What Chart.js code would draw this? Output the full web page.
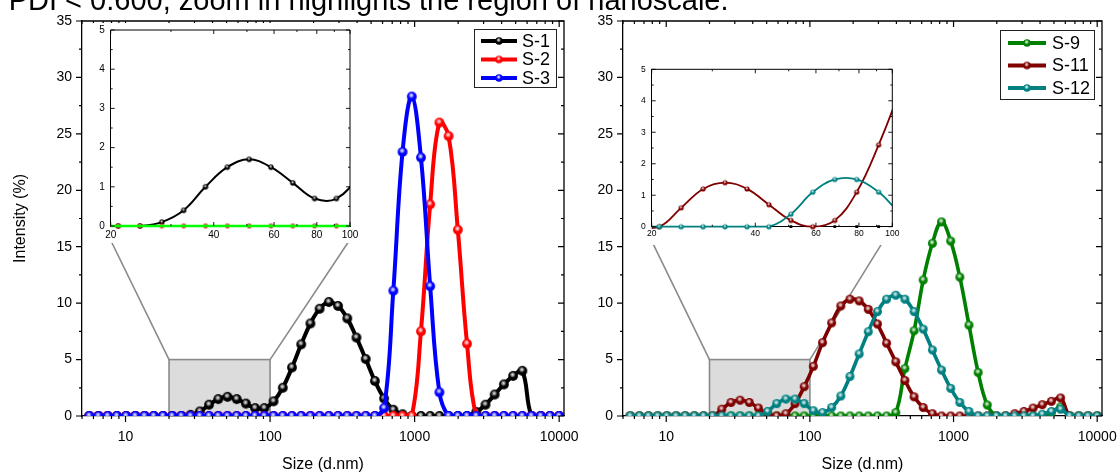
<!DOCTYPE html>
<html><head><meta charset="utf-8">
<script src="https://cdn.jsdelivr.net/npm/chart.js@4.4.1/dist/chart.umd.min.js"></script>
<style>
html,body{margin:0;padding:0;background:#fff;width:1117px;height:474px;overflow:hidden;position:relative;}
canvas{position:absolute;}
#note{position:absolute;left:-9px;top:-14px;font:29px "Liberation Sans",Arial,sans-serif;line-height:29px;white-space:nowrap;color:#000;z-index:5;}
</style></head><body>
<div id="note">r PDI &lt; 0.600, zoom in highlights the region of nanoscale.</div>
<canvas id="mainL" width="580" height="474" style="left:0;top:0;z-index:1"></canvas>
<canvas id="mainR" width="537" height="474" style="left:580px;top:0;z-index:1"></canvas>
<canvas id="insetL" width="268" height="220" style="left:92px;top:23px;z-index:2"></canvas>
<canvas id="insetR" width="264" height="183" style="left:636px;top:62px;z-index:2"></canvas>
<script>
// ---------------- DATA ----------------
const sizes = [5.615, 6.503, 7.531, 8.721, 10.10, 11.70, 13.54, 15.69, 18.17, 21.04,
  24.36, 28.21, 32.67, 37.84, 43.82, 50.75, 58.77, 68.06, 78.82, 91.28,
  105.7, 122.4, 141.8, 164.2, 190.1, 220.2, 255.0, 295.3, 342.0, 396.1,
  458.7, 531.2, 615.1, 712.4, 825.0, 955.4, 1106, 1281, 1484, 1718,
  1990, 2305, 2669, 3091, 3580, 4145, 4801, 5560, 6439, 7456,
  8635, 10000];
const s1 = [0,0,0,0,0,0,0,0,0,0,
  0,0.1,0.4,1.0,1.5,1.7,1.5,1.1,0.7,0.7,
  1.3,2.5,4.3,6.35,8.2,9.5,10.1,9.75,8.65,6.95,
  5.05,3.1,1.55,0.55,0.15,0,0,0,0,0,
  0,0,0.35,1.0,1.9,2.8,3.55,4.0,0,0,
  0,0];
const s2 = [0,0,0,0,0,0,0,0,0,0,
  0,0,0,0,0,0,0,0,0,0,
  0,0,0,0,0,0,0,0,0,0,
  0,0,0,0,0,0,7.5,18.75,26.0,24.8,
  16.5,6.4,0,0,0,0,0,0,0,0,
  0,0];
const s3 = [0,0,0,0,0,0,0,0,0,0,
  0,0,0,0,0,0,0,0,0,0,
  0,0,0,0,0,0,0,0,0,0,
  0,0,0.7,11.1,23.4,28.3,22.9,11.5,2.1,0,
  0,0,0,0,0,0,0,0,0,0,
  0,0];
const s9 = [0,0,0,0,0,0,0,0,0,0,
  0,0,0,0,0,0,0,0,0,0,
  0,0,0,0,0,0,0,0,0,0.3,
  4.2,7.55,12.05,15.3,17.2,15.5,12.3,8.05,3.85,0.97,
  0,0,0,0,0,0,0.3,0.8,0,0,
  0,0];
const s11 = [0,0,0,0,0,0,0,0,0,0,
  0.6,1.2,1.4,1.2,0.7,0.2,0,0.2,1.1,2.6,
  4.4,6.5,8.25,9.75,10.35,10.2,9.45,8.15,6.45,4.8,
  3.15,1.7,0.75,0.2,0,0,0,0,0,0,
  0,0,0.2,0.4,0.7,1.0,1.3,1.6,0,0,
  0,0];
const s12 = [0,0,0,0,0,0,0,0,0,0,
  0,0,0,0,0,0.4,1.1,1.5,1.5,1.1,
  0.47,0.3,0.75,1.77,3.5,5.5,7.47,9.25,10.35,10.7,
  10.35,9.25,7.7,5.85,4.07,2.45,1.2,0.4,0,0,
  0,0,0,0,0,0.15,0.4,0.6,0,0,
  0,0];
const xMajor = [10, 100, 1000, 10000];
const xMinor = [5,6,7,8,9,20,30,40,50,60,70,80,90,200,300,400,500,600,700,800,900,2000,3000,4000,5000,6000,7000,8000,9000];
const yMajor = [0,5,10,15,20,25,30,35];
const yMinor = [2.5,7.5,12.5,17.5,22.5,27.5,32.5];
const inXMajor = [20,40,60,80,100];
const inXMinor = [30,50,70,90];
const inYMajor = [0,1,2,3,4,5];
const inYMinor = [0.5,1.5,2.5,3.5,4.5];
const zoomRange = {x0: 20, x1: 100, y0: 0, y1: 5};

// ---------------- HELPERS ----------------
const FAM = '"Liberation Sans", Arial, sans-serif';
Chart.defaults.font.family = FAM;
Chart.defaults.color = '#000';
const charts = {};

function ball(color, r) {
  const s = Math.ceil(r * 2 + 2);
  const c = document.createElement('canvas'); c.width = s; c.height = s;
  const g = c.getContext('2d'); const cx = s / 2, cy = s / 2;
  g.beginPath(); g.arc(cx, cy, r, 0, Math.PI * 2); g.fillStyle = color; g.fill();
  const hx = cx - r * 0.1, hy = cy - r * 0.25;
  const grd = g.createRadialGradient(hx, hy, 0, hx, hy, r * 0.62);
  grd.addColorStop(0, 'rgba(255,255,255,0.95)');
  grd.addColorStop(0.45, 'rgba(255,255,255,0.6)');
  grd.addColorStop(1, 'rgba(255,255,255,0)');
  g.beginPath(); g.arc(cx, cy, r, 0, Math.PI * 2); g.fillStyle = grd; g.fill();
  return c;
}
function pts(vals) { return sizes.map((x, i) => ({x, y: vals[i]})); }
function ds(label, vals, color, order, lw, r) {
  return {label, data: pts(vals), borderColor: color, backgroundColor: color, borderWidth: lw,
    tension: 0.4, pointStyle: ball(color, r), pointRadius: r, pointHoverRadius: r, order,
    legendMarker: ball(color, 3.8)};
}
function fitX(h) { return s => { s.height = h; s.paddingLeft = 0; s.paddingRight = 0; }; }
function fitY(w) { return s => { s.width = w; s.paddingTop = 0; s.paddingBottom = 0; }; }

const framePlugin = {
  id: 'frame',
  afterDraw(chart, args, o) {
    const {ctx, chartArea: a, scales: {x, y}} = chart;
    ctx.save();
    ctx.strokeStyle = '#000'; ctx.lineWidth = o.lw;
    ctx.beginPath();
    ctx.moveTo(a.left, a.top); ctx.lineTo(a.right, a.top); ctx.lineTo(a.right, a.bottom);
    ctx.stroke();
    ctx.lineWidth = o.tw;
    ctx.beginPath();
    const bDir = o.bottomOut ? 1 : -1, lDir = o.leftOut ? 1 : -1;
    const xt = (vals, len) => vals.forEach(v => {
      const px = x.getPixelForValue(v);
      if (px < a.left - 0.5 || px > a.right + 0.5) return;
      ctx.moveTo(px, a.bottom); ctx.lineTo(px, a.bottom + len * bDir);
      ctx.moveTo(px, a.top); ctx.lineTo(px, a.top + len);
    });
    const yt = (vals, len) => vals.forEach(v => {
      const py = y.getPixelForValue(v);
      ctx.moveTo(a.left, py); ctx.lineTo(a.left - len * lDir, py);
      ctx.moveTo(a.right, py); ctx.lineTo(a.right - len, py);
    });
    xt(o.xMajor, o.maj); xt(o.xMinor, o.min);
    yt(o.yMajor, o.maj); yt(o.yMinor, o.min);
    ctx.stroke();
    ctx.restore();
  }
};

const whiteBg = {
  id: 'whiteBg',
  beforeDraw(chart) {
    const ctx = chart.ctx; ctx.save(); ctx.fillStyle = '#fff';
    ctx.fillRect(0, 0, chart.width, chart.height); ctx.restore();
  }
};

const zoomPlugin = {
  id: 'zoomBox',
  beforeDatasetsDraw(chart, args, o) {
    const {ctx, scales: {x, y}} = chart;
    const l = x.getPixelForValue(zoomRange.x0), r = x.getPixelForValue(zoomRange.x1);
    const t = y.getPixelForValue(zoomRange.y1), b = y.getPixelForValue(zoomRange.y0);
    ctx.save();
    ctx.fillStyle = '#dcdcdc'; ctx.fillRect(l, t, r - l, b - t);
    ctx.strokeStyle = '#8a8a8a'; ctx.lineWidth = 1.6;
    ctx.strokeRect(l, t, r - l, b - t);
    const ins = charts[o.inset];
    if (ins) {
      const dx = ins.canvas.offsetLeft - chart.canvas.offsetLeft;
      const dy = ins.canvas.offsetTop - chart.canvas.offsetTop;
      const ia = ins.chartArea;
      ctx.beginPath();
      ctx.moveTo(l, t); ctx.lineTo(ia.left + dx + o.dl, ia.bottom + dy);
      ctx.moveTo(r, t); ctx.lineTo(ia.right + dx + o.dr, ia.bottom + dy);
      ctx.stroke();
    }
    ctx.restore();
  }
};

const legendPlugin = {
  id: 'boxLegend',
  afterDraw(chart, args, o) {
    const {ctx, chartArea: a} = chart;
    const right = a.right - o.offRight, left = right - o.width, top = a.top + o.offTop;
    ctx.save();
    ctx.fillStyle = '#fff'; ctx.fillRect(left, top, o.width, o.height);
    ctx.strokeStyle = '#222'; ctx.lineWidth = 1;
    ctx.strokeRect(Math.round(left) + 0.5, Math.round(top) + 0.5, o.width, o.height);
    ctx.font = o.fontSize + 'px ' + FAM; ctx.textBaseline = 'middle'; ctx.textAlign = 'left';
    chart.data.datasets.forEach((d, i) => {
      const yy = top + o.first + i * o.spacing;
      ctx.strokeStyle = d.borderColor; ctx.lineWidth = o.lineW;
      ctx.beginPath(); ctx.moveTo(left + o.lineX0, yy); ctx.lineTo(left + o.lineX1, yy); ctx.stroke();
      const m = d.legendMarker;
      ctx.drawImage(m, left + (o.lineX0 + o.lineX1) / 2 - m.width / 2, yy - m.height / 2);
      ctx.fillStyle = '#000';
      ctx.fillText(d.label, left + o.textX, yy + 1);
    });
    ctx.restore();
  }
};

function mainOptions(yWidth, padRight, showYTitle, legendOpts, insetName, dl, dr) {
  return {
    responsive: false, animation: false, devicePixelRatio: 1, events: [],
    layout: {padding: {top: 21, right: padRight, left: 0, bottom: 0}},
    plugins: {
      legend: {display: false}, tooltip: {enabled: false},
      frame: {lw: 1.3, tw: 1.2, maj: 6, min: 3, bottomOut: true, leftOut: true,
        xMajor, xMinor, yMajor, yMinor},
      zoomBox: {inset: insetName, dl, dr},
      boxLegend: legendOpts
    },
    scales: {
      x: {type: 'logarithmic', min: 5, max: 10800, position: 'bottom',
        afterFit: fitX(58),
        afterBuildTicks: s => { s.ticks = xMajor.map(v => ({value: v})); },
        ticks: {callback: v => String(v), font: {size: 14}, color: '#000', padding: 7,
          maxRotation: 0, autoSkip: false},
        grid: {display: true, drawOnChartArea: false, drawTicks: true, tickLength: 6,
          tickColor: 'rgba(0,0,0,0)', color: 'rgba(0,0,0,0)'},
        border: {display: true, color: '#000', width: 1.3},
        title: {display: true, text: 'Size (d.nm)', font: {size: 16}, color: '#000',
          padding: {top: 0, bottom: 0}}
      },
      y: {type: 'linear', min: 0, max: 35, position: 'left',
        afterFit: fitY(yWidth),
        afterBuildTicks: s => { s.ticks = yMajor.map(v => ({value: v})); },
        ticks: {font: {size: 14}, color: '#000', padding: 4},
        grid: {display: true, drawOnChartArea: false, drawTicks: true, tickLength: 6,
          tickColor: 'rgba(0,0,0,0)', color: 'rgba(0,0,0,0)'},
        border: {display: true, color: '#000', width: 1.3},
        title: {display: showYTitle, text: 'Intensity (%)', font: {size: 16}, color: '#000',
          padding: {top: 11, bottom: 0}}
      }
    }
  };
}

function insetOptions(yWidth, xHeight, padTop, padRight, fontSize, labPadX, labPadY) {
  return {
    responsive: false, animation: false, devicePixelRatio: 1, events: [],
    layout: {padding: {top: padTop, right: padRight, left: 0, bottom: 0}},
    plugins: {
      legend: {display: false}, tooltip: {enabled: false},
      frame: {lw: 1, tw: 0.9, maj: 4, min: 2, bottomOut: false, leftOut: false,
        xMajor: inXMajor, xMinor: inXMinor, yMajor: inYMajor, yMinor: inYMinor}
    },
    scales: {
      x: {type: 'logarithmic', min: 20, max: 100, position: 'bottom',
        afterFit: fitX(xHeight),
        afterBuildTicks: s => { s.ticks = inXMajor.map(v => ({value: v})); },
        ticks: {callback: v => String(v), font: {size: fontSize}, color: '#000', padding: labPadY,
          maxRotation: 0, autoSkip: false},
        grid: {display: false, drawTicks: false},
        border: {display: true, color: '#000', width: 1}
      },
      y: {type: 'linear', min: 0, max: 5, position: 'left',
        afterFit: fitY(yWidth),
        afterBuildTicks: s => { s.ticks = inYMajor.map(v => ({value: v})); },
        ticks: {font: {size: fontSize}, color: '#000', padding: labPadX},
        grid: {display: false, drawTicks: false},
        border: {display: true, color: '#000', width: 1}
      }
    }
  };
}
const inClip = {left: 0, right: 0, top: 0, bottom: 4};
function ids(label, vals, color, order, lw, r, style) {
  return {label, data: pts(vals), borderColor: color, backgroundColor: color, borderWidth: lw,
    tension: 0.4, pointStyle: style || ball(color, r), pointRadius: r, pointHoverRadius: r,
    order, clip: inClip};
}

// ---------------- INSETS ----------------
charts.insetL = new Chart(document.getElementById('insetL'), {
  type: 'line',
  data: {datasets: [
    ids('S-1', s1, '#000000', 3, 2, 2.7),
    ids('S-2', s2, '#ff0000', 2, 1.5, 2.4),
    Object.assign(ids('S-3', s3, '#00ff00', 1, 2.5, 1.4), {pointStyle: 'circle', pointBorderWidth: 0})
  ]},
  options: insetOptions(18.7, 17, 7, 10, 10, 6, 3),
  plugins: [whiteBg, framePlugin]
});
charts.insetR = new Chart(document.getElementById('insetR'), {
  type: 'line',
  data: {datasets: [
    Object.assign(ids('S-9', s9, '#000000', 3, 0, 2), {pointStyle: 'rect', showLine: false, pointBorderWidth: 0}),
    ids('S-11', s11, '#800000', 2, 1.8, 2.6),
    ids('S-12', s12, '#008080', 1, 1.8, 2.6)
  ]},
  options: insetOptions(15.7, 18.3, 7.3, 7.7, 8.5, 6, 2),
  plugins: [whiteBg, framePlugin]
});

// ---------------- MAIN ----------------
charts.mainL = new Chart(document.getElementById('mainL'), {
  type: 'line',
  data: {datasets: [
    ds('S-1', s1, '#000000', 3, 4, 4.9),
    ds('S-2', s2, '#ff0000', 2, 4, 4.9),
    ds('S-3', s3, '#0000ff', 1, 4, 4.9)
  ]},
  options: mainOptions(82, 16, true,
    {offRight: 8, offTop: 8, width: 82, height: 58, first: 12, spacing: 18.5,
     lineX0: 7, lineX1: 43, lineW: 4, textX: 48, fontSize: 18}, 'insetL', -7, 9),
  plugins: [framePlugin, zoomPlugin, legendPlugin]
});
charts.mainR = new Chart(document.getElementById('mainR'), {
  type: 'line',
  data: {datasets: [
    ds('S-9', s9, '#008000', 3, 3.6, 4.5),
    ds('S-11', s11, '#800000', 2, 3.6, 4.5),
    ds('S-12', s12, '#008080', 1, 3.6, 4.5)
  ]},
  options: mainOptions(43, 15, false,
    {offRight: 8, offTop: 9, width: 94, height: 69, first: 13, spacing: 22.5,
     lineX0: 8, lineX1: 46, lineW: 4, textX: 52, fontSize: 18}, 'insetR', -7, 0),
  plugins: [framePlugin, zoomPlugin, legendPlugin]
});
</script>
</body></html>
